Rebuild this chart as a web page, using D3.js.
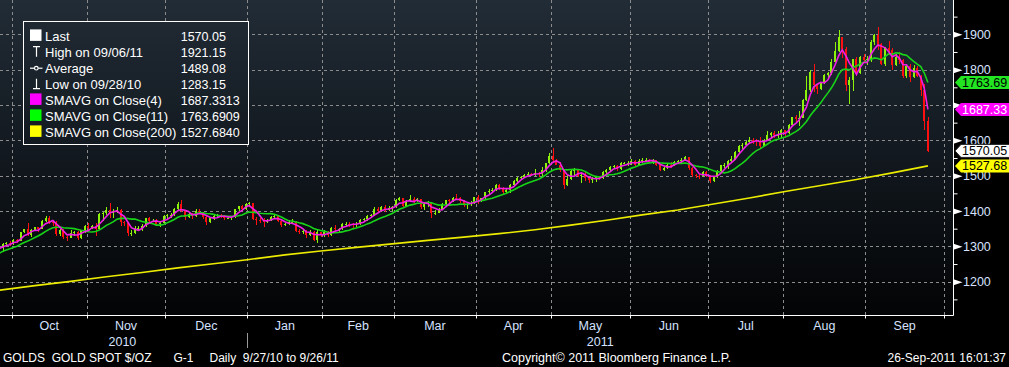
<!DOCTYPE html>
<html><head><meta charset="utf-8">
<script src="https://cdn.jsdelivr.net/npm/d3@7"></script>
<style>html,body{margin:0;padding:0;background:#000;overflow:hidden}</style>
</head><body><svg id="c" width="1009" height="367"></svg>
<script>
// ---------------- DATA ----------------
const startDate = "2010-09-27";
const boundaryEnd = "2011-10-03"; // first trading day after the chart's last month
const priorCloses = [1250,1270,1268,1275,1276,1280,1291,1292,1292,1297];
const opens = [
1297,1295,1308,1309,
1307,1319,1315,1340,1348,1333,1346,1354,1350,1372,1381,1370,1369,1334,1345,1326,1325,1339,1340,1325,1345,
1357,1352,1357,1349,1392,1394,1403,1393,1401,1404,1368,1366,1338,1339,1352,1353,1358,1379,1373,1373,1363,1367,
1386,1388,1390,1405,1421,1400,1383,1391,1385,1400,1396,1384,1370,1379,1387,1388,1387,1379,1380,1383,1405,1413,1405,
1421,1423,1378,1374,1371,1369,1375,1384,1386,1371,1360,1362,1369,1370,1344,1342,1344,1332,1342,1318,1340,
1333,1340,1332,1352,1348,1350,1363,1364,1363,1360,1364,1374,1376,1385,1388,1405,1400,1411,1402,1409,
1410,1432,1437,1415,1429,1434,1428,1433,1411,1420,1422,1393,1395,1404,1419,1430,1429,1438,1436,1427,1416,1419,1423,
1439,1430,1437,1453,1458,1460,1474,1466,1454,1459,1475,1486,1493,1496,1503,1505,1503,1508,1506,1516,1536,
1556,1544,1531,1515,1474,1491,1513,1517,1500,1501,1492,1488,1490,1496,1494,1509,1515,1525,1527,1520,1536,1536,
1536,1541,1531,1542,1543,1545,1540,1543,1530,1517,1522,1531,1530,1540,1541,1545,1553,1521,1501,1500,1498,1511,
1500,1486,1497,1513,1529,1530,1541,1547,1566,1585,1586,1594,1602,1601,1598,1585,1601,1614,1621,1614,1615,
1628,1622,1644,1666,1659,1664,1713,1741,1792,1757,1745,1763,1786,1791,1823,1852,1891,1859,1757,1770,1829,1790,1836,
1826,1830,1879,1898,1872,1817,1860,1856,1812,1837,1826,1781,1811,1780,1806,1783,1741,1655];
const highs = [
1300,1310,1313,1315,
1321,1321,1341,1350,1365,1349,1356,1356,1375,1387,1386,1374,1373,1348,1349,1330,1345,1343,1343,1347,1360,
1365,1360,1365,1394,1398,1410,1424,1405,1411,1406,1372,1370,1346,1357,1358,1363,1381,1383,1377,1376,1370,1389,
1391,1395,1408,1425,1431,1401,1395,1394,1405,1405,1398,1386,1381,1391,1391,1392,1389,1383,1386,1407,1415,1416,1424,
1425,1424,1383,1380,1380,1378,1387,1389,1390,1375,1367,1375,1378,1372,1350,1349,1346,1346,1344,1345,1342,
1345,1343,1354,1360,1353,1366,1369,1368,1367,1369,1377,1380,1388,1392,1410,1411,1415,1416,1414,1413,
1434,1440,1438,1432,1445,1440,1438,1435,1424,1428,1424,1404,1408,1422,1432,1434,1440,1448,1440,1430,1424,1427,1440,
1446,1438,1455,1462,1464,1476,1477,1468,1461,1476,1487,1496,1498,1505,1510,1508,1518,1510,1524,1537,1564,
1577,1548,1540,1520,1501,1515,1521,1520,1506,1510,1495,1495,1500,1500,1512,1518,1528,1531,1530,1538,1540,1542,
1548,1544,1546,1549,1550,1548,1546,1545,1533,1525,1533,1538,1542,1545,1549,1556,1554,1525,1506,1505,1514,1514,
1503,1499,1516,1531,1537,1545,1557,1571,1588,1593,1597,1609,1608,1604,1610,1605,1625,1623,1627,1625,1632,
1630,1646,1667,1672,1683,1716,1782,1800,1817,1760,1766,1789,1793,1830,1877,1911,1893,1863,1778,1830,1836,1840,1843,
1838,1884,1900,1921.15,1874,1865,1880,1862,1845,1850,1830,1817,1815,1814,1810,1786,1760,1667];
const lows = [
1291,1283.15,1303,1300,
1305,1309,1314,1337,1328,1326,1343,1341,1349,1368,1362,1358,1329,1330,1322,1316,1324,1330,1319,1322,1339,
1346,1350,1330,1347,1372,1390,1381,1380,1395,1357,1359,1330,1330,1336,1344,1344,1354,1370,1368,1360,1354,1362,
1378,1380,1385,1403,1397,1375,1381,1378,1383,1392,1377,1360,1365,1375,1380,1380,1375,1377,1375,1381,1401,1400,1403,
1412,1375,1361,1365,1354,1365,1371,1379,1370,1355,1357,1360,1364,1341,1335,1336,1324,1328,1316,1309,1326,
1326,1327,1329,1340,1342,1347,1357,1354,1352,1356,1360,1368,1371,1382,1386,1393,1398,1396,1399,1400,
1408,1428,1410,1413,1425,1423,1425,1407,1402,1412,1380,1388,1393,1403,1415,1423,1425,1435,1422,1412,1407,1415,1419,
1420,1425,1430,1448,1450,1458,1459,1447,1450,1452,1472,1476,1488,1494,1500,1500,1500,1497,1500,1511,1532,
1535,1530,1511,1462,1470,1488,1503,1495,1478,1486,1478,1478,1483,1488,1490,1502,1512,1519,1512,1517,1532,1527,
1530,1525,1528,1537,1538,1535,1533,1527,1513,1512,1519,1522,1527,1535,1537,1541,1515,1497,1494,1491,1495,1496,
1478,1482,1494,1510,1522,1518,1540,1545,1563,1575,1583,1592,1591,1585,1578,1584,1600,1608,1606,1608,1608,
1608,1618,1641,1651,1641,1662,1712,1737,1738,1730,1741,1759,1775,1784,1822,1849,1834,1740,1702,1740,1783,1787,1818,
1812,1822,1870,1855,1812,1810,1842,1800,1810,1817,1776,1775,1766,1776,1779,1725,1630,1568];
const closes = [
1295,1308,1309,1307,
1319,1315,1340,1348,1333,1346,1354,1350,1372,1381,1370,1369,1334,1345,1326,1325,1339,1340,1325,1345,1357,
1352,1357,1349,1392,1394,1403,1393,1401,1404,1368,1366,1338,1339,1352,1353,1358,1379,1373,1373,1363,1367,1386,
1388,1390,1405,1421,1400,1383,1391,1385,1400,1396,1384,1370,1379,1387,1388,1387,1379,1380,1383,1405,1413,1405,1421,
1423,1378,1374,1371,1369,1375,1384,1386,1371,1360,1362,1369,1370,1344,1342,1344,1332,1342,1318,1340,1333,
1340,1332,1352,1348,1350,1363,1364,1363,1360,1364,1374,1376,1385,1388,1405,1400,1411,1402,1409,1410,
1432,1437,1415,1429,1434,1428,1433,1411,1420,1422,1393,1395,1404,1419,1430,1429,1438,1436,1427,1416,1419,1423,1439,
1430,1437,1453,1458,1460,1474,1466,1454,1459,1475,1486,1493,1496,1503,1505,1503,1508,1506,1516,1536,1556,
1544,1531,1515,1474,1491,1513,1517,1500,1501,1492,1488,1490,1496,1494,1509,1515,1525,1527,1520,1536,1536,1536,
1541,1531,1542,1543,1545,1540,1543,1530,1517,1522,1531,1530,1540,1541,1545,1553,1521,1501,1500,1498,1511,1500,
1486,1497,1513,1529,1530,1541,1547,1566,1585,1586,1594,1602,1601,1598,1585,1601,1614,1621,1614,1615,1628,
1622,1644,1666,1659,1664,1713,1741,1792,1757,1745,1763,1786,1791,1823,1852,1891,1859,1757,1770,1829,1790,1836,1826,
1830,1879,1898,1872,1817,1860,1856,1812,1837,1826,1781,1811,1780,1806,1783,1741,1655,1570.05];
const sma200Index  = [0,10,20,30,40,50,60,70,80,90,100,110,120,130,140,150,160,170,180,190,200,210,220,230,240,250,260];
const sma200Values = [1176,1189,1201,1214,1226,1239,1251,1263,1276,1287,1297,1307,1317,1326,1336,1347,1360,1374,1389,1403,1420,1437,1455,1472,1489,1508,1527.68];
const monthLabels = ["Oct","Nov","Dec","Jan","Feb","Mar","Apr","May","Jun","Jul","Aug","Sep"];
const yearLabels = ["2010","2011"];
const yTicks = [1200,1300,1400,1500,1600,1700,1800,1900];
const yMinorTicks = [1150,1250,1350,1450,1550,1650,1750,1850,1950];
const legendLabels = ["Last","High on 09/06/11","Average","Low on 09/28/10","SMAVG on Close(4)","SMAVG on Close(11)","SMAVG on Close(200)"];
const legendValues = ["1570.05","1921.15","1489.08","1283.15","1687.3313","1763.6909","1527.6840"];
const markerValues = [1763.69, 1687.33, 1570.05, 1527.68];
const footerLeft = "GOLDS\u00A0\u00A0GOLD SPOT $/OZ";
const footerSec = "G-1";
const footerRange = "Daily\u00A0\u00A09/27/10 to 9/26/11";
const footerCopy = "Copyright\u00A9 2011 Bloomberg Finance L.P.";
const footerTime = "26-Sep-2011 16:01:37";

// ---------------- LAYOUT ----------------
const W = 1009, H = 367, plotRight = 953, axisY = 315;
const FONT = "'Liberation Sans', Arial, sans-serif";
const colUp = "#8cf20a", colDown = "#ff1010";
const colSma4 = "#f21ee6", colSma11 = "#18d418", colSma200 = "#ecec00";
const axisText = "#d6e2ff";

const svg = d3.select("#c");
const defs = svg.append("defs");
const grad = defs.append("linearGradient").attr("id","bg")
  .attr("gradientUnits","userSpaceOnUse").attr("x1",0).attr("y1",0).attr("x2",0).attr("y2",axisY);
[[0,"#222c36"],[0.45,"#131a21"],[1,"#030405"]].forEach(s=>grad.append("stop").attr("offset",s[0]).attr("stop-color",s[1]));
defs.append("clipPath").attr("id","plotclip").append("rect").attr("x",0).attr("y",0).attr("width",plotRight).attr("height",axisY);

svg.append("rect").attr("width",W).attr("height",H).attr("fill","#000");
svg.append("rect").attr("x",0).attr("y",0).attr("width",plotRight).attr("height",axisY).attr("fill","url(#bg)");

// trading days
const parse = d3.timeParse("%Y-%m-%d");
const allDays = d3.timeDay.range(parse(startDate), d3.timeDay.offset(parse(boundaryEnd),1))
  .filter(d => d.getDay()!==0 && d.getDay()!==6);
const monthBounds = [];
for (let i=1;i<allDays.length;i++) if (allDays[i].getMonth()!==allDays[i-1].getMonth()) monthBounds.push(i);
const lastBound = monthBounds[monthBounds.length-1];
const yearIdx = allDays.findIndex(d => d.getFullYear() === 2011);

const x = d3.scaleLinear().domain([0, lastBound]).range([-2.6, 944.0]);
const y = d3.scaleLinear().domain([1200, 1900]).range([281.7, 34.3]);
const px = v => Math.round(v) + 0.5;

// grid
const grid = svg.append("g").attr("stroke","#8c8c8c").attr("stroke-width",1).attr("stroke-dasharray","3,3");
grid.selectAll("line.h").data(yTicks).join("line").attr("class","h")
  .attr("x1",0).attr("x2",plotRight).attr("y1",d=>px(y(d))).attr("y2",d=>px(y(d)));
grid.selectAll("line.v").data(monthBounds).join("line").attr("class","v")
  .attr("x1",d=>px(x(d))).attr("x2",d=>px(x(d))).attr("y1",0).attr("y2",axisY);

const plot = svg.append("g").attr("clip-path","url(#plotclip)");

// SMA200
const line = d3.line().x(d=>x(d[0]+0.5)).y(d=>y(d[1]));
plot.append("path").datum(sma200Index.map((i,k)=>[i, sma200Values[k]]))
  .attr("d", line).attr("fill","none").attr("stroke",colSma200).attr("stroke-width",1.6);

// candles
const bars = closes.map((c,i)=>({i, o:opens[i], h:highs[i], l:lows[i], c}));
const cg = plot.append("g").attr("shape-rendering","crispEdges");
cg.selectAll("rect.w").data(bars).join("rect").attr("class","w")
  .attr("x", d=>Math.round(x(d.i+0.5))-0.5).attr("width",1)
  .attr("y", d=>y(d.h)).attr("height", d=>Math.max(1, y(d.l)-y(d.h)))
  .attr("fill", d=>d.c>=d.o?colUp:colDown);
cg.selectAll("rect.b").data(bars).join("rect").attr("class","b")
  .attr("x", d=>Math.round(x(d.i+0.5))-1).attr("width",2)
  .attr("y", d=>y(Math.max(d.o,d.c))).attr("height", d=>Math.max(1, Math.abs(y(d.o)-y(d.c))))
  .attr("fill", d=>d.c>=d.o?colUp:colDown);

// SMAs
const all = priorCloses.concat(closes);
function sma(n){ return closes.map((c,i)=>{ const e=i+priorCloses.length+1; return [i, d3.mean(all.slice(e-n,e))]; }); }
plot.append("path").datum(sma(11)).attr("d",line).attr("fill","none").attr("stroke",colSma11).attr("stroke-width",1.6);
plot.append("path").datum(sma(4)).attr("d",line).attr("fill","none").attr("stroke",colSma4).attr("stroke-width",1.6);

// bottom axis
const xAxis = d3.axisBottom(x).tickValues(monthBounds).tickFormat("").tickSize(3).tickSizeOuter(0);
const gx = svg.append("g").attr("transform",`translate(0,${axisY+0.5})`).call(xAxis);
gx.select(".domain").remove();
gx.selectAll(".tick line").attr("stroke","#fff");
gx.selectAll(".tick").attr("transform", d=>`translate(${px(x(d))},0)`);
svg.append("line").attr("x1",0).attr("x2",plotRight+0.5).attr("y1",axisY+0.5).attr("y2",axisY+0.5).attr("stroke","#fff");
svg.append("line").attr("x1",plotRight+0.5).attr("x2",plotRight+0.5).attr("y1",0).attr("y2",axisY+0.5).attr("stroke","#fff");

// month labels
svg.append("g").selectAll("text").data(monthLabels).join("text")
  .attr("x",(d,k)=>(x(monthBounds[k])+x(monthBounds[k+1]))/2).attr("y",330)
  .attr("text-anchor","middle").attr("fill",axisText).attr("font-family",FONT).attr("font-size","12.5px").text(d=>d);
// year labels
const yearCenters = [(x(0)+x(yearIdx))/2, (x(yearIdx)+plotRight)/2];
svg.append("g").selectAll("text").data(yearLabels).join("text")
  .attr("x",(d,k)=>yearCenters[k]).attr("y",345.5)
  .attr("text-anchor","middle").attr("fill",axisText).attr("font-family",FONT).attr("font-size","12.5px").text(d=>d);
svg.append("line").attr("x1",px(x(yearIdx))).attr("x2",px(x(yearIdx))).attr("y1",333).attr("y2",348).attr("stroke","#9a9a9a");

// right axis
const gyMinor = svg.append("g").attr("transform",`translate(${plotRight+0.5},0)`)
  .call(d3.axisRight(y).tickValues(yMinorTicks).tickSize(4).tickFormat(""));
gyMinor.select(".domain").remove();
gyMinor.selectAll(".tick line").attr("stroke","#fff");
const gy = svg.append("g").attr("transform",`translate(${plotRight+0.5},0)`)
  .call(d3.axisRight(y).tickValues(yTicks).tickSize(0).tickPadding(9.5).tickFormat(d3.format("d")));
gy.select(".domain").remove();
gy.selectAll(".tick text").attr("fill",axisText).attr("font-family",FONT).attr("font-size","12.5px");
// a tick label fully hidden behind a value marker in the reference is not drawn
gy.selectAll(".tick text").filter(d => markerValues.some(v => Math.abs(y(v)-y(d)) < 6)).remove();
gy.selectAll(".tick").append("path").attr("d","M0,-3L9,0L0,3Z").attr("fill","#fff");

// value markers (drawn over axis labels, as in the reference)
const markerFill = ["#22e622", "#ff00ff", "#ffffff", "#ffff00"];
const markerText = ["#000","#fff","#000","#000"];
const mg = svg.append("g");
markerValues.forEach((v,k)=>{
  const yc = y(v);
  mg.append("path").attr("d",`M955,${yc}L961,${yc-6.5}L1012,${yc-6.5}L1012,${yc+6.5}L961,${yc+6.5}Z`)
    .attr("fill",markerFill[k]).attr("stroke", k===2?"#222":"none");
  mg.append("text").attr("x",962).attr("y",yc).attr("dy","0.36em").attr("fill",markerText[k])
    .attr("font-family",FONT).attr("font-size","12.5px").text(d3.format(".2f")(v));
});

// legend
const lg = svg.append("g");
lg.append("rect").attr("x",23.5).attr("y",21.5).attr("width",225).attr("height",123)
  .attr("fill","url(#bg)").attr("stroke","#fff").attr("stroke-width",1);
const base = k => 40.7 + k*16;
lg.selectAll("text.l").data(legendLabels).join("text").attr("class","l")
  .attr("x",45).attr("y",(d,k)=>base(k)).attr("fill","#fff").attr("font-family",FONT).attr("font-size","13px").text(d=>d);
lg.selectAll("text.v").data(legendValues).join("text").attr("class","v")
  .attr("x",180.7).attr("y",(d,k)=>base(k)).attr("fill","#fff").attr("font-family",FONT).attr("font-size","12.5px").text(d=>d);
// icons
lg.append("rect").attr("x",30).attr("y",base(0)-11.3).attr("width",11.5).attr("height",11.5).attr("fill","#fff");
[[4,"#ff00ff"],[5,"#00ff00"],[6,"#ffff00"]].forEach(([k,c])=>
  lg.append("rect").attr("x",30).attr("y",base(k)-11.3).attr("width",11.5).attr("height",11.5).attr("fill",c));
const ic = lg.append("g").attr("stroke","#fff").attr("stroke-width",1.2).attr("fill","none");
ic.append("path").attr("d",`M33,${base(1)-10}H40M36.5,${base(1)-10}V${base(1)}`);
ic.append("path").attr("d",`M30,${base(2)-4.5}H42.5`);
ic.append("circle").attr("cx",36.3).attr("cy",base(2)-4.5).attr("r",1.8).attr("fill","#1a222b");
ic.append("path").attr("d",`M36.5,${base(3)-10}V${base(3)}M33,${base(3)}H40`);

// footer
const ft = svg.append("g").attr("fill","#fff").attr("font-family",FONT).attr("font-size","12px");
ft.append("text").attr("x",3).attr("y",362).text(footerLeft);
ft.append("text").attr("x",173.5).attr("y",362).text(footerSec);
ft.append("text").attr("x",209.5).attr("y",362).text(footerRange);
ft.append("text").attr("x",502).attr("y",362).attr("font-size","12.5px").text(footerCopy);
ft.append("text").attr("x",1006).attr("y",362).attr("text-anchor","end").text(footerTime);
</script>
</body></html>
